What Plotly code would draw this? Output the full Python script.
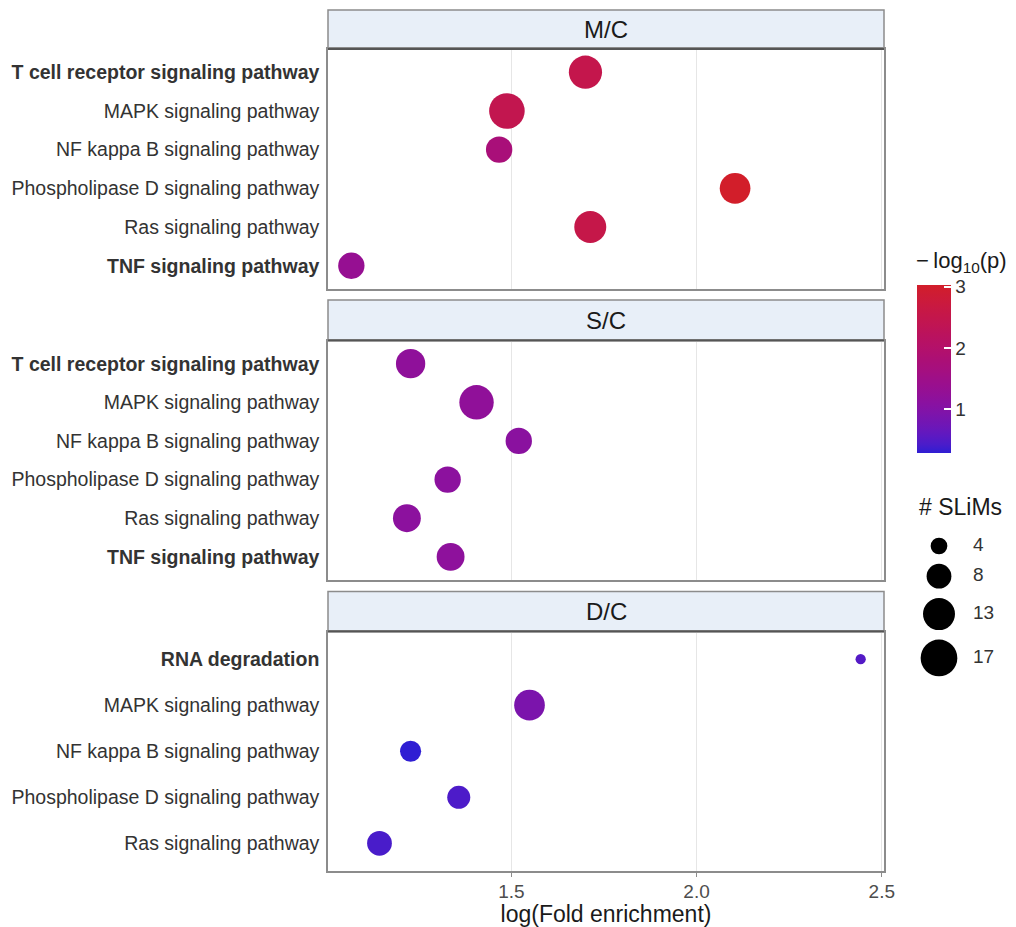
import numpy as np
import plotly.graph_objects as go

# ---------------- data ----------------
panels = ["M/C", "S/C", "D/C"]

mc_pathways = ["T cell receptor signaling pathway", "MAPK signaling pathway",
               "NF kappa B signaling pathway", "Phospholipase D signaling pathway",
               "Ras signaling pathway", "TNF signaling pathway"]
mc_fold = [1.70, 1.488, 1.467, 2.104, 1.713, 1.068]
mc_logp = [2.50, 2.45, 1.75, 3.03, 2.55, 1.33]
mc_slims = [14, 16, 9, 12, 13, 9]

sc_pathways = ["T cell receptor signaling pathway", "MAPK signaling pathway",
               "NF kappa B signaling pathway", "Phospholipase D signaling pathway",
               "Ras signaling pathway", "TNF signaling pathway"]
sc_fold = [1.228, 1.406, 1.520, 1.328, 1.218, 1.336]
sc_logp = [1.20, 1.22, 1.12, 1.15, 1.15, 1.18]
sc_slims = [11, 15, 9, 9, 10, 10]

dc_pathways = ["RNA degradation", "MAPK signaling pathway",
               "NF kappa B signaling pathway", "Phospholipase D signaling pathway",
               "Ras signaling pathway"]
dc_fold = [2.443, 1.549, 1.228, 1.358, 1.144]
dc_logp = [0.50, 0.90, 0.29, 0.45, 0.42]
dc_slims = [2, 12, 6, 7, 8]

bold_pathways = ["T cell receptor signaling pathway", "TNF signaling pathway", "RNA degradation"]

size_breaks = [4, 8, 13, 17]
x_ticks = [1.5, 2.0, 2.5]

# ---------------- styles ----------------
FONT = "Liberation Sans, Arial, Helvetica, sans-serif"
LOW_COL = "#2F1ED3"
HIGH_COL = "#D21E2A"


def hex2rgb(h):
    h = h.lstrip("#")
    return [int(h[i:i + 2], 16) / 255 for i in (0, 2, 4)]


def srgb2lin(c):
    c = np.asarray(c)
    return np.where(c <= 0.04045, c / 12.92, ((c + 0.055) / 1.055) ** 2.4)


def lin2srgb(c):
    c = np.asarray(c)
    return np.where(c <= 0.0031308, 12.92 * c, 1.055 * np.power(np.clip(c, 0, None), 1 / 2.4) - 0.055)


M = np.array([[0.4124, 0.3576, 0.1805], [0.2126, 0.7152, 0.0722], [0.0193, 0.1192, 0.9505]])
Minv = np.linalg.inv(M)
WHITE = np.array([0.95047, 1.0, 1.08883])


def f(t):
    d = 6 / 29
    return np.where(t > d ** 3, np.cbrt(t), t / (3 * d * d) + 4 / 29)


def finv(t):
    d = 6 / 29
    return np.where(t > d, t ** 3, 3 * d * d * (t - 4 / 29))


def rgb2lab(rgb):
    xyz = M @ srgb2lin(rgb) / WHITE
    fx, fy, fz = f(xyz)
    return np.array([116 * fy - 16, 500 * (fx - fy), 200 * (fy - fz)])


def lab2hex(lab):
    L, a, b = lab
    fy = (L + 16) / 116
    fx = fy + a / 500
    fz = fy - b / 200
    xyz = np.array([finv(fx), finv(fy), finv(fz)]) * WHITE
    rgb = np.clip(lin2srgb(Minv @ xyz), 0, 1)
    return "#%02x%02x%02x" % tuple(int(round(v * 255)) for v in rgb)


lab_lo, lab_hi = rgb2lab(hex2rgb(LOW_COL)), rgb2lab(hex2rgb(HIGH_COL))
colorscale = [[t, lab2hex(lab_lo + (lab_hi - lab_lo) * t)] for t in np.linspace(0, 1, 21)]


def diam(n):
    return 1.42 + 8.82 * np.sqrt(np.asarray(n, dtype=float) - 1)


def fmt(p):
    return f"<b>{p}</b>" if p in bold_pathways else p


# ---------------- layout geometry (screen px -> paper) ----------------
OFF = 8  # page body margin
W, H = 1016 - OFF, 927 - OFF
ML, MR, MT, MB = 328 - OFF, 0, 10 - OFF, 56
PW, PH = W - ML - MR, H - MT - MB


def px_x(x):
    return (x - OFF - ML) / PW


def px_y(y):
    return (H - MB - (y - OFF)) / PH


xdom = [0, px_x(884)]
plot_px = [(49, 289), (340.5, 580), (631.5, 871)]
strip_px = [(10, 49), (300, 340.5), (591.5, 631.5)]

fig = go.Figure()

data = [(mc_pathways, mc_fold, mc_logp, mc_slims),
        (sc_pathways, sc_fold, sc_logp, sc_slims),
        (dc_pathways, dc_fold, dc_logp, dc_slims)]

for i, (paths, fold, logp, slims) in enumerate(data):
    suffix = "" if i == 0 else str(i + 1)
    fig.add_trace(go.Scatter(
        x=fold, y=paths, mode="markers", xaxis="x" + suffix, yaxis="y" + suffix,
        marker=dict(size=diam(slims), sizemode="diameter", color=logp, coloraxis="coloraxis",
                    line=dict(width=0), opacity=1),
        showlegend=False,
        customdata=slims,
        hovertemplate="%{y}<br>log(FE)=%{x}<br>-log10(p)=%{marker.color}<br>SLiMs=%{customdata}<extra></extra>",
    ))
    top, bot = plot_px[i]
    n = len(paths)
    fig.layout["xaxis" + suffix] = dict(
        domain=xdom, range=[1.005, 2.506], tickvals=x_ticks,
        ticktext=[f"{v:.1f}" for v in x_ticks],
        showgrid=True, gridcolor="#E6E6E6", gridwidth=1.3, zeroline=False,
        showline=True, mirror=True, linecolor="#8C8C8C", linewidth=1.5,
        showticklabels=(i == 2), ticks="outside" if i == 2 else "", ticklen=4,
        tickcolor="#8C8C8C", tickwidth=1.2, ticklabelstandoff=-2,
        tickfont=dict(family=FONT, size=19, color="#4D4D4D"),
        anchor="y" + suffix,
        matches=None if i == 0 else "x",
    )
    fig.layout["yaxis" + suffix] = dict(
        domain=[px_y(bot), px_y(top)], type="category",
        categoryorder="array", categoryarray=paths,
        range=[n - 1 + 0.6, -0.6],
        tickvals=paths, ticktext=[fmt(p) for p in paths],
        showgrid=False, zeroline=False,
        showline=True, mirror=True, linecolor="#8C8C8C", linewidth=1.5,
        ticks="", ticklabelstandoff=3,
        tickfont=dict(family=FONT, size=19.5, color="#333333"),
        anchor="x" + suffix,
    )
    # strip
    s_top, s_bot = strip_px[i]
    fig.add_shape(type="rect", xref="paper", yref="paper",
                  x0=xdom[0], x1=xdom[1], y0=px_y(s_bot), y1=px_y(s_top),
                  fillcolor="#E8EFF8", line=dict(color="#8C8C8C", width=1.5), layer="below")
    fig.add_shape(type="line", xref="paper", yref="paper",
                  x0=xdom[0], x1=xdom[1], y0=px_y(s_bot), y1=px_y(s_bot),
                  line=dict(color="#555555", width=2))
    fig.add_annotation(text=panels[i], xref="paper", yref="paper",
                       x=(xdom[0] + xdom[1]) / 2, y=(px_y(s_bot) + px_y(s_top)) / 2,
                       showarrow=False, xanchor="center", yanchor="middle",
                       font=dict(family=FONT, size=24, color="#1A1A1A"))

fig.layout.xaxis3.title = dict(text="log(Fold enrichment)", standoff=8,
                               font=dict(family=FONT, size=23, color="#1A1A1A"))

# ---------------- size legend (drawn on its own small axes) ----------------
leg_d = diam(size_breaks)
centers = [26.0]
for k in range(1, len(size_breaks)):
    centers.append(centers[-1] + (leg_d[k - 1] + leg_d[k]) / 2 + 9.5)
fig.add_trace(go.Scatter(
    x=[34] * len(size_breaks), y=centers, mode="markers", xaxis="x4", yaxis="y4",
    marker=dict(size=leg_d, sizemode="diameter", color="#000000", line=dict(width=0), opacity=1),
    showlegend=False, hoverinfo="skip"))
fig.add_trace(go.Scatter(
    x=[68] * len(size_breaks), y=centers, mode="text", xaxis="x4", yaxis="y4",
    text=[str(b) for b in size_breaks], textposition="middle right",
    textfont=dict(family=FONT, size=19, color="#333333"),
    showlegend=False, hoverinfo="skip"))
fig.layout.xaxis4 = dict(domain=[px_x(905), px_x(1010)], range=[0, 105], visible=False,
                         anchor="y4", fixedrange=True)
fig.layout.yaxis4 = dict(domain=[px_y(690), px_y(520)], range=[170, 0], visible=False,
                         anchor="x4", fixedrange=True)
fig.add_annotation(text="# SLiMs", xref="paper", yref="paper", x=px_x(917), y=px_y(507),
                   xanchor="left", yanchor="middle", showarrow=False,
                   font=dict(family=FONT, size=23, color="#1A1A1A"))

# colour bar title (as annotation so it does not push the margins)
fig.add_annotation(text="\u2212\u2009log<sub>10</sub>(p)", xref="paper", yref="paper",
                   x=px_x(914), y=px_y(262), xanchor="left", yanchor="middle", showarrow=False,
                   font=dict(family=FONT, size=22, color="#1A1A1A"))

# ---------------- colour axis ----------------
fig.update_layout(
    coloraxis=dict(
        colorscale=colorscale,
        colorbar=dict(
            x=px_x(917), xanchor="left", xpad=0,
            y=px_y(369), yanchor="middle", ypad=0,
            len=168, lenmode="pixels", thickness=34, thicknessmode="pixels",
            outlinewidth=0, tickvals=[1, 2, 3], ticks="inside", ticklen=7,
            tickcolor="white", tickwidth=1.5,
            tickfont=dict(family=FONT, size=19, color="#333333"),
        ),
    ),
    width=W, height=H,
    margin=dict(l=ML, r=MR, t=MT, b=MB, autoexpand=False),
    paper_bgcolor="white", plot_bgcolor="white",
    showlegend=False,
)

fig.write_html("out.html")
